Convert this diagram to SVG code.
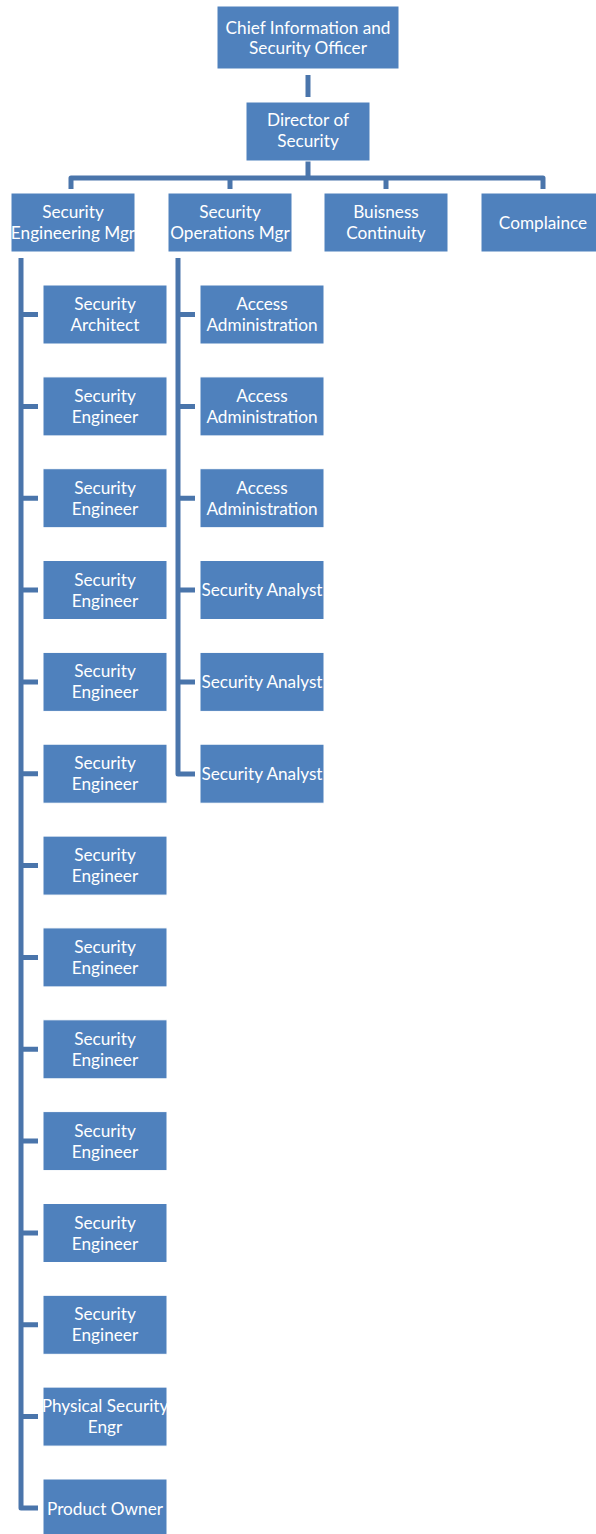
<svg xmlns="http://www.w3.org/2000/svg" width="596" height="1534" viewBox="0 0 596 1534">
<style>
.b{fill:#4f81bd;stroke:#ffffff;stroke-width:1}
.t{fill:#ffffff;font-family:Lato,"Open Sans","Liberation Sans",sans-serif;font-size:17.2px;text-anchor:middle}
.c{fill:none;stroke:#4a75ab;stroke-width:5;stroke-linejoin:round}
</style>
<rect width="596" height="1534" fill="#ffffff"/>
<g id="connectors">
<path class="c" d="M308 75V97"/>
<path class="c" d="M308 161V178M71 189V178H543V189M230 178V189M386 178V189"/>
<path class="c" d="M21 258V1508H38"/>
<path class="c" d="M21 314.5H38M21 406.4H38M21 498.2H38M21 590H38M21 681.9H38M21 773.7H38M21 865.6H38M21 957.4H38M21 1049.3H38M21 1141.1H38M21 1233H38M21 1324.8H38M21 1416.6H38"/>
<path class="c" d="M178 258V774H195"/>
<path class="c" d="M178 314.5H195M178 406.4H195M178 498.2H195M178 590H195M178 681.9H195"/>
</g>
<g id="n0"><rect class="b" x="217" y="6" width="182" height="63"/><text class="t" x="308" y="33.5">Chief Information and</text><text class="t" x="308" y="53.5">Security Officer</text></g>
<g id="n1"><rect class="b" x="246" y="102" width="124" height="59"/><text class="t" x="308" y="126">Director of</text><text class="t" x="308" y="147">Security</text></g>
<g id="n2"><rect class="b" x="11" y="193" width="124" height="59"/><text class="t" x="73" y="218">Security</text><text class="t" x="73" y="239">Engineering Mgr</text></g>
<g id="n3"><rect class="b" x="168" y="193" width="124" height="59"/><text class="t" x="230" y="218">Security</text><text class="t" x="230" y="239">Operations Mgr</text></g>
<g id="n4"><rect class="b" x="324" y="193" width="124" height="59"/><text class="t" x="386" y="218">Buisness</text><text class="t" x="386" y="239">Continuity</text></g>
<g id="n5"><rect class="b" x="481" y="193" width="124" height="59"/><text class="t" x="543" y="228.5">Complaince</text></g>
<g id="e1"><rect class="b" x="43" y="285" width="124" height="59"/><text class="t" x="105" y="310">Security</text><text class="t" x="105" y="331">Architect</text></g>
<g id="e2"><rect class="b" x="43" y="376.9" width="124" height="59"/><text class="t" x="105" y="401.9">Security</text><text class="t" x="105" y="422.9">Engineer</text></g>
<g id="e3"><rect class="b" x="43" y="468.7" width="124" height="59"/><text class="t" x="105" y="493.7">Security</text><text class="t" x="105" y="514.7">Engineer</text></g>
<g id="e4"><rect class="b" x="43" y="560.5" width="124" height="59"/><text class="t" x="105" y="585.5">Security</text><text class="t" x="105" y="606.5">Engineer</text></g>
<g id="e5"><rect class="b" x="43" y="652.4" width="124" height="59"/><text class="t" x="105" y="677.4">Security</text><text class="t" x="105" y="698.4">Engineer</text></g>
<g id="e6"><rect class="b" x="43" y="744.2" width="124" height="59"/><text class="t" x="105" y="769.2">Security</text><text class="t" x="105" y="790.2">Engineer</text></g>
<g id="e7"><rect class="b" x="43" y="836.1" width="124" height="59"/><text class="t" x="105" y="861.1">Security</text><text class="t" x="105" y="882.1">Engineer</text></g>
<g id="e8"><rect class="b" x="43" y="927.9" width="124" height="59"/><text class="t" x="105" y="952.9">Security</text><text class="t" x="105" y="973.9">Engineer</text></g>
<g id="e9"><rect class="b" x="43" y="1019.8" width="124" height="59"/><text class="t" x="105" y="1044.8">Security</text><text class="t" x="105" y="1065.8">Engineer</text></g>
<g id="e10"><rect class="b" x="43" y="1111.6" width="124" height="59"/><text class="t" x="105" y="1136.6">Security</text><text class="t" x="105" y="1157.6">Engineer</text></g>
<g id="e11"><rect class="b" x="43" y="1203.5" width="124" height="59"/><text class="t" x="105" y="1228.5">Security</text><text class="t" x="105" y="1249.5">Engineer</text></g>
<g id="e12"><rect class="b" x="43" y="1295.3" width="124" height="59"/><text class="t" x="105" y="1320.3">Security</text><text class="t" x="105" y="1341.3">Engineer</text></g>
<g id="e13"><rect class="b" x="43" y="1387.1" width="124" height="59"/><text class="t" x="105" y="1412.1">Physical Security</text><text class="t" x="105" y="1433.1">Engr</text></g>
<g id="e14"><rect class="b" x="43" y="1479" width="124" height="59"/><text class="t" x="105" y="1514.5">Product Owner</text></g>
<g id="o1"><rect class="b" x="200" y="285" width="124" height="59"/><text class="t" x="262" y="310">Access</text><text class="t" x="262" y="331">Administration</text></g>
<g id="o2"><rect class="b" x="200" y="376.9" width="124" height="59"/><text class="t" x="262" y="401.9">Access</text><text class="t" x="262" y="422.9">Administration</text></g>
<g id="o3"><rect class="b" x="200" y="468.7" width="124" height="59"/><text class="t" x="262" y="493.7">Access</text><text class="t" x="262" y="514.7">Administration</text></g>
<g id="o4"><rect class="b" x="200" y="560.5" width="124" height="59"/><text class="t" x="262" y="596">Security Analyst</text></g>
<g id="o5"><rect class="b" x="200" y="652.4" width="124" height="59"/><text class="t" x="262" y="688">Security Analyst</text></g>
<g id="o6"><rect class="b" x="200" y="744.2" width="124" height="59"/><text class="t" x="262" y="779.7">Security Analyst</text></g>
</svg>
